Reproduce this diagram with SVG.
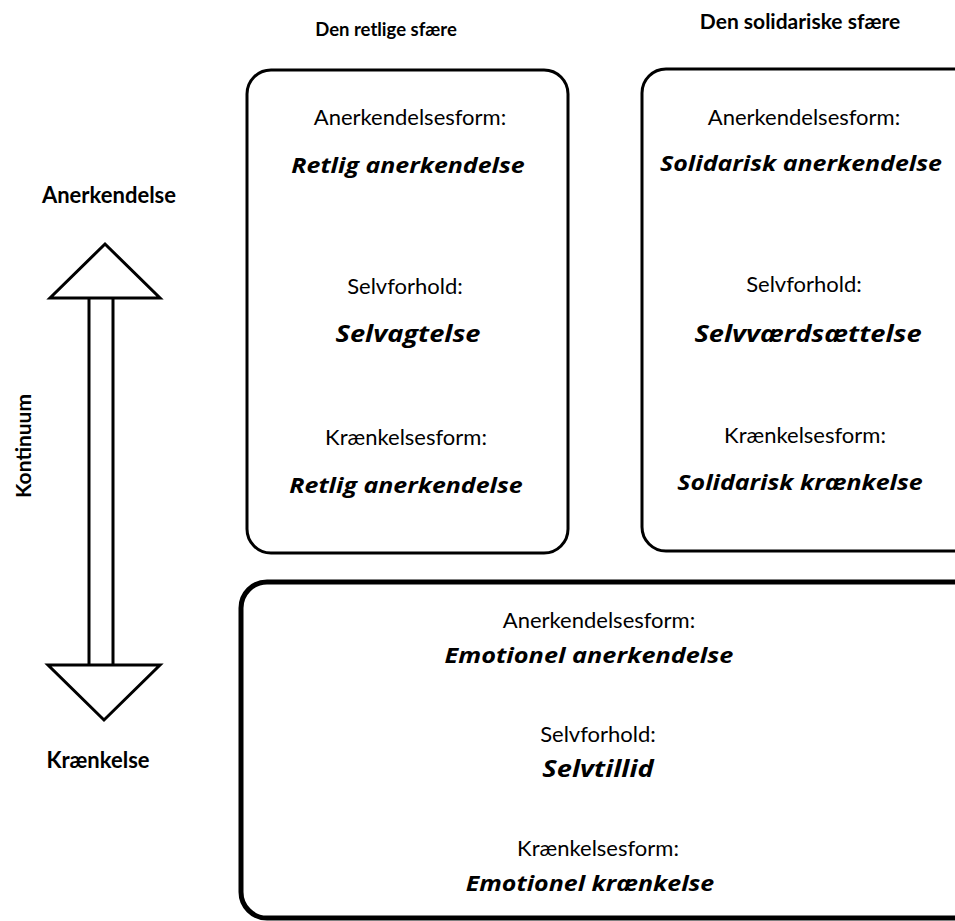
<svg xmlns="http://www.w3.org/2000/svg" width="955" height="921" viewBox="0 0 955 921">
<style>
.box{fill:#fff;stroke:#000;stroke-width:3}
.lbl{font-family:Lato,"Liberation Sans",sans-serif;font-size:22px;text-anchor:middle;fill:#000}
.val{font-family:"Open Sans","Liberation Sans",sans-serif;font-size:22px;font-weight:bold;font-style:italic;text-anchor:middle;fill:#000}
.big{font-size:24px}
.hdr{font-family:Lato,"Liberation Sans",sans-serif;font-size:19px;font-weight:bold;text-anchor:middle;fill:#000}
.arr{fill:#fff;stroke:#000;stroke-width:3;stroke-linejoin:miter}
</style>
<rect width="955" height="921" fill="#fff"/>
<text class="hdr" x="386" y="36" style="font-size:18.5px">Den retlige sfære</text>
<text class="hdr" x="800" y="29" style="font-size:21px">Den solidariske sfære</text>
<g id="axis">
<text class="hdr" x="109" y="203" style="font-size:22px">Anerkendelse</text>
<text class="hdr" x="98" y="768" style="font-size:22px">Krænkelse</text>
<text class="hdr" x="0" y="0" style="font-size:21px" transform="translate(31,446) rotate(-90)">Kontinuum</text>
</g>
<g id="connectors">
<path class="arr" d="M89,297 L89,666 L113,666 L113,297 Z"/>
<path class="arr" d="M105,244 L160,298 L50,298 Z"/>
<path class="arr" d="M48,665 L160,665 L104,720 Z"/>
</g>
<g id="retlig">
<rect class="box" x="247" y="70" width="321" height="483" rx="24"/>
<text class="lbl" x="410" y="125">Anerkendelsesform:</text>
<text class="val" transform="translate(408,173) scale(1.135,1)">Retlig anerkendelse</text>
<text class="lbl" x="405" y="294">Selvforhold:</text>
<text class="val big" transform="translate(408,342) scale(1.135,1)">Selvagtelse</text>
<text class="lbl" x="406" y="445">Krænkelsesform:</text>
<text class="val" transform="translate(406,493) scale(1.135,1)">Retlig anerkendelse</text>
</g>
<g id="solidarisk">
<rect class="box" x="642" y="69" width="340" height="482" rx="24"/>
<text class="lbl" x="804" y="125">Anerkendelsesform:</text>
<text class="val" transform="translate(801,171) scale(1.135,1)">Solidarisk anerkendelse</text>
<text class="lbl" x="804" y="292">Selvforhold:</text>
<text class="val big" transform="translate(808,342) scale(1.135,1)">Selvværdsættelse</text>
<text class="lbl" x="805" y="443">Krænkelsesform:</text>
<text class="val" transform="translate(800,490) scale(1.135,1)">Solidarisk krænkelse</text>
</g>
<g id="emotionel">
<rect class="box" x="241" y="582" width="740" height="336" rx="26" style="stroke-width:5"/>
<text class="lbl" x="599" y="628">Anerkendelsesform:</text>
<text class="val" transform="translate(589,663) scale(1.15,1)">Emotionel anerkendelse</text>
<text class="lbl" x="598" y="742">Selvforhold:</text>
<text class="val big" transform="translate(598,777) scale(1.135,1)">Selvtillid</text>
<text class="lbl" x="598" y="856">Krænkelsesform:</text>
<text class="val" transform="translate(590,891) scale(1.135,1)">Emotionel krænkelse</text>
</g>
</svg>
